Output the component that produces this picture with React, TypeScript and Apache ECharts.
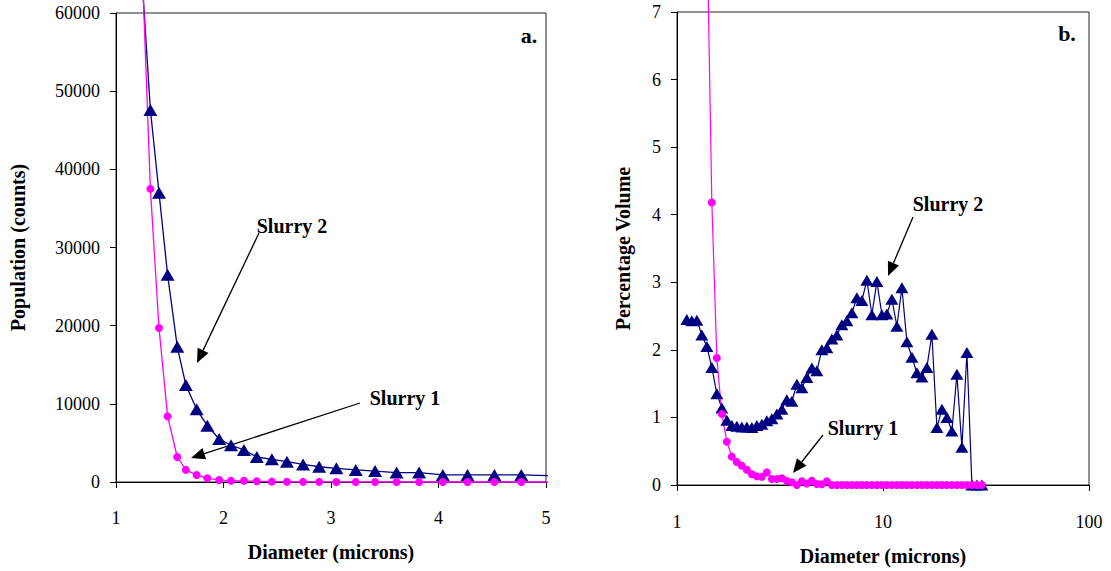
import React, { useEffect, useRef } from "react";
import * as echarts from "echarts";

// ---------- Chart a: population vs diameter ----------
const diameterA = [1.25, 1.32, 1.40, 1.48, 1.57, 1.65, 1.75, 1.85, 1.96, 2.07, 2.19, 2.31, 2.45, 2.59, 2.74, 2.89, 3.05, 3.23, 3.41, 3.61, 3.82, 4.04, 4.27, 4.52, 4.77, 5.08];
const slurry1PopA = [63500, 37500, 19700, 8400, 3200, 1550, 900, 470, 260, 150, 150, 100, 50, 30, 20, 20, 10, 10, 10, 0, 0, 0, 0, 0, 0, 0];
const slurry2PopA = [62700, 47600, 37000, 26500, 17300, 12400, 9300, 7200, 5500, 4700, 4100, 3200, 2900, 2600, 2250, 1950, 1750, 1550, 1400, 1200, 1200, 900, 900, 900, 900, 800];
const xTicksA = [1, 2, 3, 4, 5];
const yTicksA = [0, 10000, 20000, 30000, 40000, 50000, 60000];

// ---------- Chart b: percentage volume vs diameter ----------
const diameterB = [1.116, 1.18, 1.248, 1.32, 1.396, 1.476, 1.561, 1.651, 1.746, 1.846, 1.952, 2.064, 2.183, 2.309, 2.441, 2.582, 2.73, 2.887, 3.053, 3.229, 3.414, 3.611, 3.818, 4.038, 4.27, 4.515, 4.775, 5.049, 5.34, 5.647, 5.971, 6.315, 6.678, 7.062, 7.468, 7.897, 8.351, 8.831, 9.339, 9.876, 10.44, 11.04, 11.68, 12.35, 13.06, 13.81, 14.61, 15.45, 16.33, 17.27, 18.27, 19.32, 20.43, 21.6, 22.84, 24.16, 25.55, 27.02, 28.57, 30.21];
const slurry1VolB = [null, null, null, null, 8.4, 4.18, 1.88, 1.05, 0.64, 0.42, 0.34, 0.285, 0.226, 0.16, 0.128, 0.12, 0.187, 0.089, 0.09, 0.1, 0.06, 0.04, 0, 0.055, 0.02, 0.064, 0.015, 0.01, 0.055, 0, 0, 0, 0, 0, 0, 0, 0, 0, 0, 0, 0, 0, 0, 0, 0, 0, 0, 0, 0, 0, 0, 0, 0, 0, 0, 0, 0, 0, 0, 0];
const slurry2VolB = [2.45, 2.43, 2.44, 2.22, 2.05, 1.74, 1.35, 1.14, 0.96, 0.88, 0.87, 0.86, 0.86, 0.85, 0.88, 0.9, 0.95, 0.98, 1.05, 1.12, 1.26, 1.24, 1.49, 1.44, 1.59, 1.73, 1.69, 2.0, 2.03, 2.16, 2.22, 2.37, 2.43, 2.55, 2.77, 2.73, 3.03, 2.52, 3.01, 2.52, 2.53, 2.75, 2.35, 2.92, 2.12, 1.89, 1.66, 1.6, 1.74, 2.23, 0.85, 1.12, 1.0, 0.8, 1.64, 0.56, 1.96, 0, 0, 0];
const yMaxB = 7;

const NAVY = "#000080";
const MAGENTA = "#FF00FF";
const SERIF = "'Liberation Serif', 'Times New Roman', serif";

function pairs(xs: number[], ys: (number | null)[], xMax: number, yMax: number) {
  const out: any[] = [];
  xs.forEach((x, i) => {
    const y = ys[i];
    if (y === null || y === undefined) return;
    if (x > xMax || y > yMax) out.push({ value: [x, y], symbol: "none" });
    else out.push({ value: [x, y] });
  });
  return out;
}

function arrow(x1: number, y1: number, x2: number, y2: number): any[] {
  const dx = x2 - x1;
  const dy = y2 - y1;
  const len = Math.sqrt(dx * dx + dy * dy);
  const ux = dx / len;
  const uy = dy / len;
  const head = 14;
  const half = 6;
  const bx = x2 - ux * head;
  const by = y2 - uy * head;
  return [
    { type: "line", shape: { x1, y1, x2: bx, y2: by }, style: { stroke: "#000", lineWidth: 1.3 } },
    {
      type: "polygon",
      shape: { points: [[x2, y2], [bx - uy * half, by + ux * half], [bx + uy * half, by - ux * half]] },
      style: { fill: "#000" },
    },
  ];
}

function label(text: string, x: number, y: number, size = 20): any {
  return {
    type: "text",
    x,
    y,
    style: { text, fill: "#000", font: `bold ${size}px ${SERIF}`, align: "center", verticalAlign: "middle" },
  };
}

export default function App() {
  const ref = useRef<HTMLDivElement>(null);
  useEffect(() => {
    if (!ref.current) return;
    const chart = echarts.init(ref.current, undefined, { renderer: "svg" });
    const axisLabel = { color: "#000", fontFamily: SERIF, fontSize: 18, formatter: (v: number) => String(v) };
    const axisLine = { show: true, lineStyle: { color: "#000", width: 1 } };
    const axisTick = { show: true, inside: false, length: 6, lineStyle: { color: "#000" } };
    const nameStyle = { color: "#000", fontFamily: SERIF, fontSize: 20, fontWeight: "bold" as const };

    chart.setOption({
      animation: false,
      backgroundColor: "#fff",
      grid: [
        { left: 116, top: 13, width: 430, height: 469, show: true, borderColor: "#222", borderWidth: 1, backgroundColor: "transparent" },
        { left: 677, top: 12, width: 412, height: 474, show: true, borderColor: "#222", borderWidth: 1, backgroundColor: "transparent" },
      ],
      xAxis: [
        {
          gridIndex: 0, type: "value", min: xTicksA[0], max: xTicksA[xTicksA.length - 1], interval: 1,
          axisLine, axisTick, axisLabel: { ...axisLabel, margin: 27 }, splitLine: { show: false },
          name: "Diameter (microns)", nameLocation: "middle", nameGap: 60, nameTextStyle: nameStyle,
        },
        {
          gridIndex: 1, type: "log", logBase: 10, min: 1, max: 100,
          axisLine, axisTick, axisLabel: { ...axisLabel, margin: 28 }, splitLine: { show: false }, minorTick: { show: false },
          name: "Diameter (microns)", nameLocation: "middle", nameGap: 61, nameTextStyle: nameStyle,
        },
      ],
      yAxis: [
        {
          gridIndex: 0, type: "value", min: yTicksA[0], max: yTicksA[yTicksA.length - 1], interval: 10000,
          axisLine, axisTick, axisLabel: { ...axisLabel, margin: 16 }, splitLine: { show: false },
          name: "Population (counts)", nameLocation: "middle", nameGap: 88, nameTextStyle: nameStyle,
        },
        {
          gridIndex: 1, type: "value", min: 0, max: yMaxB, interval: 1,
          axisLine, axisTick, axisLabel: { ...axisLabel, margin: 16 }, splitLine: { show: false },
          name: "Percentage Volume", nameLocation: "middle", nameGap: 44, nameTextStyle: nameStyle,
        },
      ],
      series: [
        {
          name: "Slurry 2", type: "line", xAxisIndex: 0, yAxisIndex: 0, clip: false,
          data: pairs(diameterA, slurry2PopA, 5, 60000),
          symbol: "triangle", symbolSize: [14, 12], itemStyle: { color: NAVY },
          lineStyle: { color: NAVY, width: 1.3 },
        },
        {
          name: "Slurry 1", type: "line", xAxisIndex: 0, yAxisIndex: 0, clip: false,
          data: pairs(diameterA, slurry1PopA, 5, 60000),
          symbol: "circle", symbolSize: 8, itemStyle: { color: MAGENTA },
          lineStyle: { color: MAGENTA, width: 1.3 },
        },
        {
          name: "Slurry 2", type: "line", xAxisIndex: 1, yAxisIndex: 1, clip: false,
          data: pairs(diameterB, slurry2VolB, 100, yMaxB),
          symbol: "triangle", symbolSize: [13, 11], itemStyle: { color: NAVY },
          lineStyle: { color: NAVY, width: 1.2 },
        },
        {
          name: "Slurry 1", type: "line", xAxisIndex: 1, yAxisIndex: 1, clip: false,
          data: pairs(diameterB, slurry1VolB, 100, yMaxB),
          symbol: "circle", symbolSize: 8, itemStyle: { color: MAGENTA },
          lineStyle: { color: MAGENTA, width: 1.2 },
        },
      ],
      graphic: [
        label("a.", 529, 35, 22),
        label("b.", 1067, 33, 22),
        label("Slurry 2", 292, 226),
        label("Slurry 1", 405, 398),
        label("Slurry 2", 948, 204),
        label("Slurry 1", 863, 428),
        ...arrow(259, 233, 197, 363),
        ...arrow(360, 403, 191, 458),
        ...arrow(913, 217, 888, 276),
        ...arrow(823, 435, 793, 473),
      ],
    });
    return () => chart.dispose();
  }, []);

  return (
    <div
      ref={ref}
      style={{ position: "absolute", left: 0, top: 0, width: 1111, height: 571, background: "#fff" }}
    />
  );
}
